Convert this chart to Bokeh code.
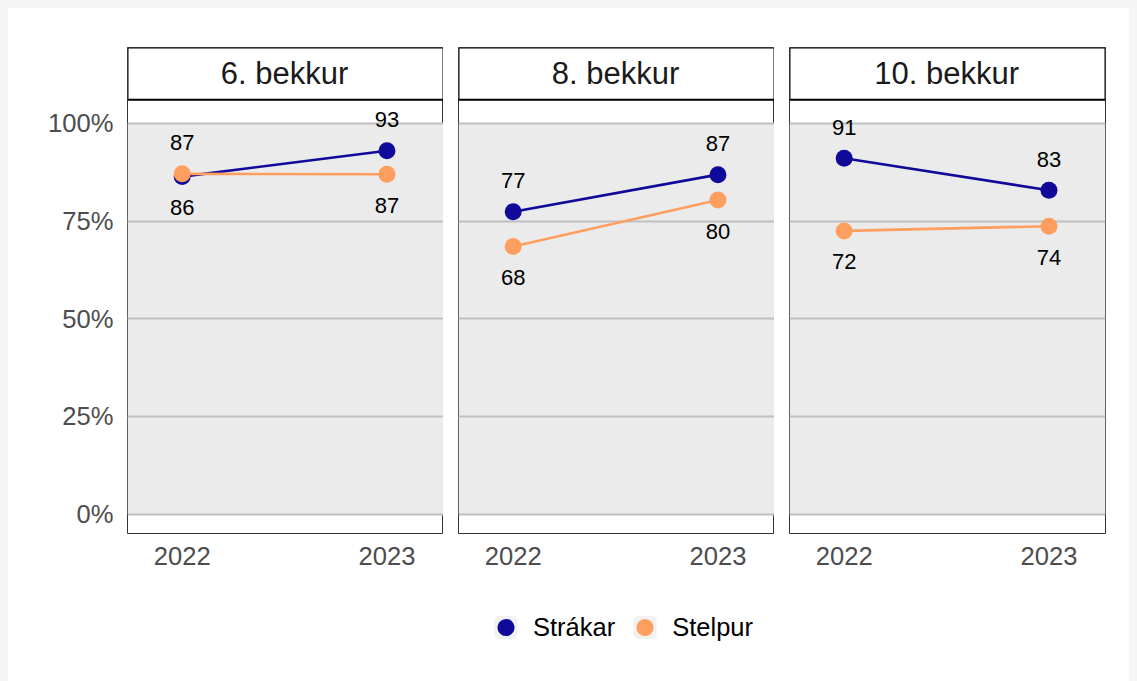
from bokeh.plotting import figure
from bokeh.models import (FixedTicker, Range1d, BoxAnnotation, Legend, LegendItem,
                          ColumnDataSource)
from bokeh.layouts import row, column
from bokeh.core.properties import value
from bokeh.embed import file_html
from bokeh.resources import INLINE

# ---------------- data ----------------
panels = ["6. bekkur", "8. bekkur", "10. bekkur"]
years = [2022, 2023]
series_names = ["Strákar", "Stelpur"]
series_colors = ["#0f0a9a", "#ff9f5f"]
strakar = [[86.4, 93.0], [77.4, 86.9], [91.1, 82.9]]
stelpur = [[87.1, 87.0], [68.5, 80.4], [72.5, 73.7]]
strakar_labels = [["86", "93"], ["77", "87"], ["91", "83"]]
stelpur_labels = [["87", "87"], ["68", "80"], ["72", "74"]]
y_ticks = [0, 25, 50, 75, 100]
y_tick_labels = ["0%", "25%", "50%", "75%", "100%"]
x_tick_labels = ["2022", "2023"]

FONT = "Liberation Sans"
PX_PER_UNIT = 486 / 124.42
Y0, Y1 = -4.97, 119.45
STRIP_BOTTOM = 106.07
LABEL_OFF = 31 / PX_PER_UNIT

figs = []
for i, title in enumerate(panels):
    first = i == 0
    last = i == len(panels) - 1
    p = figure(frame_width=316, frame_height=486,
               min_border_left=119 if first else 15,
               min_border_right=24 if last else 0,
               min_border_top=39, min_border_bottom=65,
               x_range=Range1d(2021.733, 2023.276), y_range=Range1d(Y0, Y1),
               y_axis_location="left" if first else None,
               toolbar_location=None, output_backend="svg")
    p.background_fill_color = "white"
    p.border_fill_color = "white"
    p.outline_line_color = "#333333"
    p.outline_line_width = 1

    # grey panel band 0-100
    band = BoxAnnotation(bottom=0, top=100, fill_color="#ebebeb", fill_alpha=1,
                         line_color=None, level="image")
    p.add_layout(band)

    # grid
    p.xgrid.visible = False
    p.ygrid.ticker = FixedTicker(ticks=y_ticks)
    p.ygrid.grid_line_color = "#bfbfbf"
    p.ygrid.grid_line_width = 2

    # x axis
    p.xaxis.ticker = FixedTicker(ticks=years)
    p.xaxis.major_label_overrides = {y: l for y, l in zip(years, x_tick_labels)}
    p.xaxis.axis_line_color = None
    p.xaxis.major_tick_line_color = None
    p.xaxis.minor_tick_line_color = None
    p.xaxis.major_tick_out = 0
    p.xaxis.major_label_standoff = 13
    p.xaxis.major_label_text_font = FONT
    p.xaxis.major_label_text_font_size = "25.6px"
    p.xaxis.major_label_text_color = "#4d4d4d"

    if first:
        p.yaxis.ticker = FixedTicker(ticks=y_ticks)
        p.yaxis.major_label_overrides = {t: l for t, l in zip(y_ticks, y_tick_labels)}
        p.yaxis.axis_line_color = None
        p.yaxis.major_tick_line_color = None
        p.yaxis.minor_tick_line_color = None
        p.yaxis.major_tick_out = 0
        p.yaxis.major_label_standoff = 14
        p.yaxis.major_label_text_font = FONT
        p.yaxis.major_label_text_font_size = "25.6px"
        p.yaxis.major_label_text_color = "#4d4d4d"

    # strip
    strip = BoxAnnotation(bottom=STRIP_BOTTOM, fill_color="white", fill_alpha=1,
                          line_color="black", line_alpha=1, line_width=2,
                          level="underlay")
    p.add_layout(strip)
    p.text(x=[(years[0] + years[1]) / 2], y=[(STRIP_BOTTOM + Y1) / 2], text=[title],
           text_align="center", text_baseline="middle",
           text_font=value(FONT), text_font_size="31px", text_color="#1a1a1a")

    vals = [strakar[i], stelpur[i]]
    labs = [strakar_labels[i], stelpur_labels[i]]
    for s in range(2):
        p.line(years, vals[s], line_color=series_colors[s], line_width=2.6)
    for s in range(2):
        p.scatter(years, vals[s], size=17, fill_color=series_colors[s],
                  line_color=None, marker="circle")
    # labels: higher value above, lower below
    for s in range(2):
        other = vals[1 - s]
        ly = []
        for k in range(2):
            if vals[s][k] >= other[k]:
                ly.append(vals[s][k] + LABEL_OFF)
            else:
                ly.append(vals[s][k] - LABEL_OFF)
        p.text(x=years, y=ly, text=labs[s], text_align="center",
               text_baseline="middle", text_font=value(FONT),
               text_font_size="22px", text_color="black")
    figs.append(p)

# legend figure
lf = figure(width=1129, height=83, min_border_left=476, min_border_right=0,
            min_border_top=0, min_border_bottom=26,
            x_range=Range1d(0, 1), y_range=Range1d(0, 1),
            x_axis_type=None, y_axis_type=None,
            toolbar_location=None, output_backend="svg")
lf.outline_line_color = None
lf.grid.visible = False
lf.border_fill_color = "white"
items = []
for name, col in zip(series_names, series_colors):
    src = ColumnDataSource(dict(x=[-10], y=[-10]))
    bg = lf.scatter("x", "y", source=src, marker="square", size=17,
                    fill_color="#f2f2f2", line_color="#f2f2f2", line_width=6)
    dot = lf.scatter("x", "y", source=src, marker="circle", size=17,
                     fill_color=col, line_color=None)
    items.append(LegendItem(label=name, renderers=[bg, dot]))
leg = Legend(items=items, orientation="horizontal", location="left",
             margin=0, padding=0, spacing=8, label_standoff=6,
             glyph_width=43, glyph_height=43,
             label_text_font=FONT, label_text_font_size="25.5px",
             label_text_color="black", border_line_color=None,
             background_fill_alpha=0)
lf.add_layout(leg)

top_row = row(*figs, spacing=0, styles={"background-color": "white"})
layout = column(top_row, lf, spacing=0, styles={"background-color": "white"})

page_template = """
{% block postamble %}
<style>
  html { background: #f5f5f5; }
  body { margin: 8px !important; background: #f5f5f5; }
</style>
{% endblock %}
"""
open("out.html", "w").write(file_html(layout, INLINE, template=page_template))
